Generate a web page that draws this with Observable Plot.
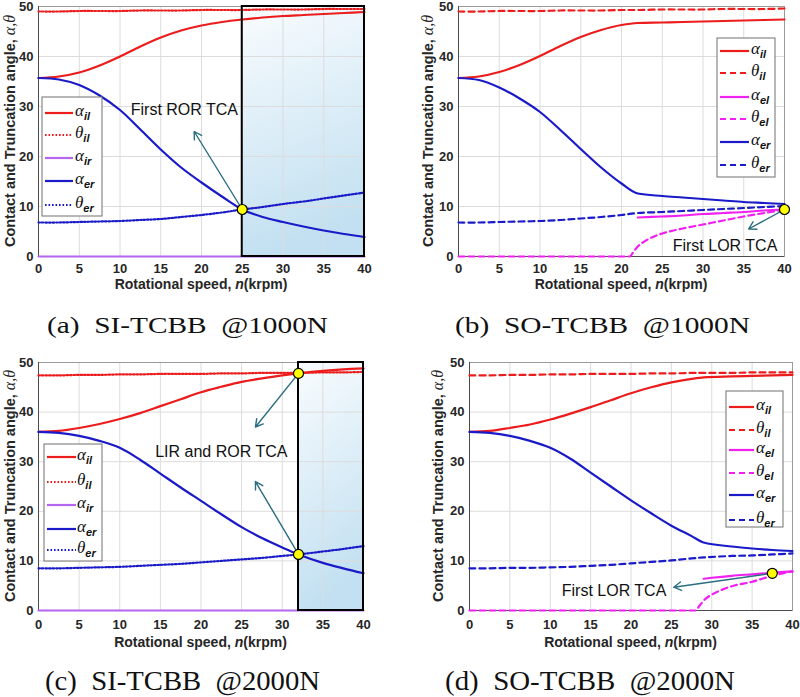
<!DOCTYPE html>
<html><head><meta charset="utf-8">
<script src="https://cdn.jsdelivr.net/npm/d3@7"></script>
<script src="https://cdn.jsdelivr.net/npm/@observablehq/plot@0.6"></script>
<style>
body{margin:0;background:#fff;}
#root{position:relative;width:800px;height:697px;overflow:hidden;background:#fff;}
.panel{position:absolute;}
.panel svg{overflow:visible;}
</style></head><body><div id="root"></div>
<script>
// ---------- shared ticks ----------
const xTicks = [0,5,10,15,20,25,30,35,40];
const yTicks = [0,10,20,30,40,50];

// ---------- (a) SI-TCBB @1000N ----------
const nA   = [0,2.5,5,7.5,10,12.5,15,17.5,20,22.5,25,27.5,30,32.5,35,37.5,40];
const aIlA = [35.7,36.0,36.8,38.2,40.0,42.0,43.8,45.2,46.2,46.9,47.4,47.8,48.1,48.3,48.5,48.7,48.9];
const tIlA = [49.0,49.0,49.1,49.1,49.1,49.2,49.2,49.2,49.3,49.3,49.3,49.4,49.4,49.4,49.5,49.5,49.5];
const aIrA = [0,0,0,0,0,0,0,0,0,0,0,0,0,0,0,0,0];
const aErA = [35.7,35.4,34.3,32.2,29.3,25.4,21.4,17.8,14.8,12.0,9.4,7.9,6.9,6.0,5.2,4.5,3.9];
const tErA = [6.8,6.8,6.9,7.0,7.1,7.3,7.5,7.9,8.3,8.8,9.4,9.9,10.5,11.0,11.6,12.2,12.8];
const regionA = [25,40];
const tcaA = {x:[25], y:[9.4]};
const arrowA = {x1:[25], y1:[9.4], x2:[19.1], y2:[25.0]};
const noteA = {x:[17.9], y:[29.3], text:["First ROR TCA"]};
const legSymA = ["α","θ","α","α","θ"];
const legSubA = ["il","il","ir","er","er"];

// ---------- (b) SO-TCBB @1000N ----------
const nB   = [0,2.5,5,7.5,10,12.5,15,17.5,20,22,25,27.5,30,32.5,35,37.5,40];
const aIlB = [35.7,36.0,36.9,38.3,40.1,42.1,43.9,45.3,46.3,46.7,46.8,46.9,47.0,47.1,47.2,47.3,47.4];
const tIlB = [49.0,49.0,49.1,49.1,49.1,49.2,49.2,49.2,49.3,49.3,49.4,49.4,49.4,49.5,49.5,49.5,49.6];
const aErB = [35.7,35.3,33.8,31.6,28.9,25.3,21.5,17.8,14.6,12.6,12.1,11.8,11.5,11.2,10.9,10.7,10.5];
const tErB = [6.8,6.8,6.9,7.0,7.1,7.3,7.6,7.9,8.3,8.7,8.9,9.1,9.3,9.5,9.7,9.9,10.1];
const nElB = [22,25,27.5,30,32.5,35,37.5,40];
const aElB = [7.8,8.0,8.2,8.5,8.7,8.9,9.2,9.4];
const nTElB = [0,5,10,15,20,21,21.5,22,23,24,25,27.5,30,32.5,35,37.5,40];
const tElB  = [0,0,0,0,0,0,1.0,2.0,3.2,4.0,4.6,5.6,6.4,7.2,8.0,8.7,9.4];
const tcaB = {x:[40], y:[9.4]};
const arrowB = {x1:[40], y1:[9.4], x2:[35.6], y2:[5.5]};
const noteB = {x:[32.7], y:[2.2], text:["First LOR TCA"]};
const legSymB = ["α","θ","α","θ","α","θ"];
const legSubB = ["il","il","el","el","er","er"];

// ---------- (c) SI-TCBB @2000N ----------
const nC   = [0,2.5,5,7.5,10,12.5,15,17.5,20,22.5,25,27.5,30,32,35,37.5,40];
const aIlC = [36.0,36.2,36.8,37.6,38.6,39.8,41.2,42.6,44.0,45.1,46.1,46.8,47.4,47.8,48.3,48.6,48.8];
const tIlC = [47.4,47.4,47.5,47.5,47.6,47.6,47.7,47.7,47.7,47.8,47.8,47.9,47.9,47.9,48.0,48.0,48.1];
const aIrC = [0,0,0,0,0,0,0,0,0,0,0,0,0,0,0,0,0];
const aErC = [36.0,35.8,35.2,34.2,32.8,30.4,27.6,24.8,22.1,19.4,16.8,14.6,12.7,11.3,9.6,8.5,7.5];
const tErC = [8.5,8.5,8.6,8.7,8.8,9.0,9.2,9.4,9.7,10.0,10.3,10.6,11.0,11.3,11.9,12.4,13.0];
const regionC = [32,40];
const tcaC = {x:[32,32], y:[47.8,11.3]};
const arrowC = {x1:[32,32], y1:[47.8,11.3], x2:[26.7,26.7], y2:[37.0,26.0]};
const noteC = {x:[22.5], y:[31.9], text:["LIR and ROR TCA"]};
const legSymC = legSymA;
const legSubC = legSubA;

// ---------- (d) SO-TCBB @2000N ----------
const nD   = [0,2.5,5,7.5,10,12.5,15,17.5,20,22.5,25,27.5,29,32.5,35,37.5,40];
const aIlD = [36.0,36.2,36.8,37.5,38.5,39.7,41.0,42.4,43.8,45.0,46.0,46.7,47.0,47.2,47.3,47.4,47.5];
const tIlD = [47.4,47.4,47.5,47.5,47.6,47.6,47.7,47.7,47.7,47.8,47.8,47.9,47.9,47.9,48.0,48.0,48.0];
const aErD = [36.0,35.8,35.2,34.2,32.8,30.6,27.8,25.0,22.2,19.6,17.1,15.0,13.7,12.9,12.5,12.2,12.0];
const tErD = [8.5,8.5,8.6,8.6,8.7,8.8,9.0,9.2,9.5,9.8,10.1,10.5,10.7,11.0,11.1,11.3,11.5];
const nElD = [29,30,32.5,35,37.5,40];
const aElD = [6.4,6.6,7.0,7.3,7.6,7.9];
const nTElD = [0,5,10,15,20,25,28,28.5,29,30,31,32.5,35,37.5,40];
const tElD  = [0,0,0,0,0,0,0,1.0,2.0,3.2,4.0,4.9,5.8,7.0,7.9];
const tcaD = {x:[37.5], y:[7.5]};
const arrowD = {x1:[37.5], y1:[7.5], x2:[25.3], y2:[4.7]};
const noteD = {x:[17.9], y:[3.9], text:["First LOR TCA"]};
const legSymD = legSymB;
const legSubD = legSubB;

// ---------- captions ----------
const captions = ["(a)\u00a0 SI-TCBB \u00a0@1000N","(b)\u00a0 SO-TCBB \u00a0@1000N","(c)\u00a0 SI-TCBB \u00a0@2000N","(d)\u00a0 SO-TCBB \u00a0@2000N"];

// ---------- styles ----------
const RED="#ec1c1c", BLUE="#1a1ac8", MAG="#f020f0", VIO="#b466ee", ARROW="#2a6e80";
const DOT="1.6,1.9", DASH="6,4";

function makePanel(cfg){
  const marks = [];
  if (cfg.region) marks.push(Plot.rect([cfg.region], {x1:d=>d[0], x2:d=>d[1], y1:0, y2:50, fill:`url(#${cfg.id}grad)`}));
  marks.push(Plot.gridX(xTicks, {stroke:"#dcdcdc", strokeOpacity:1}));
  marks.push(Plot.gridY(yTicks, {stroke:"#dcdcdc", strokeOpacity:1}));
  marks.push(Plot.frame({stroke:"#9a9a9a"}));
  marks.push(Plot.ruleX([0], {stroke:"#4a4a4a"}));
  marks.push(Plot.ruleY([0], {stroke:"#4a4a4a"}));
  for (const s of cfg.series) {
    marks.push(Plot.line(s.y, {x:s.x, y:s.y, stroke:s.color, strokeWidth:2.2, strokeDasharray:s.dash, curve:s.curve || "catmull-rom"}));
  }
  if (cfg.region) marks.push(Plot.rect([cfg.region], {x1:d=>d[0], x2:d=>d[1], y1:0, y2:50, fill:"none", stroke:"black", strokeWidth:2}));
  marks.push(Plot.arrow(cfg.arrow.x1, {x1:cfg.arrow.x1, y1:cfg.arrow.y1, x2:cfg.arrow.x2, y2:cfg.arrow.y2, stroke:ARROW, strokeWidth:1.4, headLength:9}));
  marks.push(Plot.dot(cfg.tca.x, {x:cfg.tca.x, y:cfg.tca.y, r:5, fill:"#ffff00", stroke:"black", strokeWidth:1.2}));
  marks.push(Plot.text(cfg.note.text, {x:cfg.note.x, y:cfg.note.y, text:cfg.note.text, fontSize:16, fontWeight:"normal", fill:"#111", fontFamily:"Liberation Sans"}));
  marks.push(Plot.axisX(xTicks, {tickSize:0, tickPadding:cfg.tickPadX, fontSize:13, fontWeight:"bold", fill:"#262626", label:null}));
  marks.push(Plot.axisY(yTicks, {tickSize:0, tickPadding:5, fontSize:13, fontWeight:"bold", fill:"#262626", label:null}));

  const plot = Plot.plot({
    width:400, height:296,
    marginLeft:cfg.ml, marginRight:cfg.mr, marginTop:6, marginBottom:cfg.mb,
    x:{domain:[0,40]}, y:{domain:[0,50]},
    style:{fontFamily:"Liberation Sans", background:"transparent", overflow:"visible"},
    marks
  });
  const svg = d3.select(plot);
  if (cfg.region) {
    const g = svg.insert("defs", ":first-child").append("linearGradient")
      .attr("id", cfg.id+"grad").attr("x1",0).attr("y1",0).attr("x2",0.2).attr("y2",1);
    g.append("stop").attr("offset","0%").attr("stop-color","#f9fcfe");
    g.append("stop").attr("offset","100%").attr("stop-color","#c2e0f1");
  }
  const xs = plot.scale("x"), ys = plot.scale("y");
  // x label
  const xl = svg.append("text").attr("x", (xs.apply(0)+xs.apply(40))/2).attr("y", cfg.xLabelY)
    .attr("text-anchor","middle").attr("font-family","Liberation Sans").attr("font-weight","bold")
    .attr("font-size",14).attr("fill","#262626");
  xl.append("tspan").text("Rotational speed, ");
  xl.append("tspan").attr("font-style","italic").text("n");
  xl.append("tspan").text("(krpm)");
  // y label
  const cy = (ys.apply(0)+ys.apply(50))/2;
  const yl = svg.append("text").attr("transform",`translate(${cfg.yLabelX},${cy}) rotate(-90)`)
    .attr("text-anchor","middle").attr("font-family","Liberation Sans").attr("font-weight","bold")
    .attr("font-size",14.5).attr("fill","#262626");
  yl.append("tspan").text("Contact and Truncation angle, ");
  yl.append("tspan").attr("font-family","Liberation Serif").attr("font-style","italic").attr("font-weight","normal").attr("font-size",16).text("α,θ");
  // legend
  const L = cfg.legend;
  svg.append("rect").attr("x",L.x).attr("y",L.y).attr("width",L.w).attr("height",L.h)
    .attr("fill","white").attr("stroke","#707070").attr("stroke-width",1);
  cfg.legSym.forEach((sym,i)=>{
    const s = cfg.series[i], y = L.ys[i];
    svg.append("line").attr("x1",L.lx1).attr("x2",L.lx2).attr("y1",y).attr("y2",y)
      .attr("stroke",s.color).attr("stroke-width",2.2).attr("stroke-dasharray",s.dash||null);
    const t = svg.append("text").attr("x",L.tx).attr("y",y+3).attr("fill","#111").attr("text-anchor","start");
    t.append("tspan").attr("font-family","Liberation Serif").attr("font-style","italic").attr("font-size",17).text(sym);
    t.append("tspan").attr("font-family","Liberation Sans").attr("font-style","italic").attr("font-weight","bold")
      .attr("font-size",11).attr("dy",4).text(cfg.legSub[i]);
  });
  const div = document.createElement("div");
  div.className = "panel";
  div.style.left = cfg.left+"px"; div.style.top = cfg.top+"px";
  div.appendChild(plot);
  document.getElementById("root").appendChild(div);
}

makePanel({id:"a", left:0, top:0, ml:38, mr:36, mb:40, tickPadX:7, xLabelY:289, yLabelX:15,
  region:regionA, tca:tcaA, arrow:arrowA, note:noteA, legSym:legSymA, legSub:legSubA,
  series:[{x:nA,y:aIlA,color:RED},{x:nA,y:tIlA,color:RED,dash:DOT},{x:nA,y:aIrA,color:VIO},
          {x:nA,y:aErA,color:BLUE},{x:nA,y:tErA,color:BLUE,dash:DOT}],
  legend:{x:42,y:97,w:60,h:119,ys:[113,135,158,181,205],lx1:45,lx2:73,tx:75}});

makePanel({id:"b", left:400, top:0, ml:58, mr:16, mb:40, tickPadX:7, xLabelY:289, yLabelX:33,
  tca:tcaB, arrow:arrowB, note:noteB, legSym:legSymB, legSub:legSubB,
  series:[{x:nB,y:aIlB,color:RED,curve:"monotone-x"},{x:nB,y:tIlB,color:RED,dash:DASH},{x:nElB,y:aElB,color:MAG},
          {x:nTElB,y:tElB,color:MAG,dash:DASH,curve:"monotone-x"},{x:nB,y:aErB,color:BLUE,curve:"monotone-x"},{x:nB,y:tErB,color:BLUE,dash:DASH}],
  legend:{x:317,y:38,w:58,h:139,ys:[51,73,97,119,142,165],lx1:320,lx2:349,tx:351}});

makePanel({id:"c", left:0, top:356, ml:38, mr:37, mb:42, tickPadX:9, xLabelY:291, yLabelX:15,
  region:regionC, tca:tcaC, arrow:arrowC, note:noteC, legSym:legSymC, legSub:legSubC,
  series:[{x:nC,y:aIlC,color:RED},{x:nC,y:tIlC,color:RED,dash:DOT},{x:nC,y:aIrC,color:VIO},
          {x:nC,y:aErC,color:BLUE},{x:nC,y:tErC,color:BLUE,dash:DOT}],
  legend:{x:44,y:88,w:58,h:117,ys:[101,126,149,173,194],lx1:47,lx2:76,tx:77}});

makePanel({id:"d", left:400, top:356, ml:69, mr:8, mb:42, tickPadX:9, xLabelY:291, yLabelX:43,
  tca:tcaD, arrow:arrowD, note:noteD, legSym:legSymD, legSub:legSubD,
  series:[{x:nD,y:aIlD,color:RED,curve:"monotone-x"},{x:nD,y:tIlD,color:RED,dash:DASH},{x:nElD,y:aElD,color:MAG},
          {x:nTElD,y:tElD,color:MAG,dash:DASH,curve:"monotone-x"},{x:nD,y:aErD,color:BLUE,curve:"monotone-x"},{x:nD,y:tErD,color:BLUE,dash:DASH}],
  legend:{x:326,y:35,w:57,h:136,ys:[51,74,94,117,139,164],lx1:329,lx2:354,tx:356}});

// captions overlay
const cap = d3.select("#root").append("svg").attr("width",800).attr("height",697)
  .style("position","absolute").style("left",0).style("top",0).style("pointer-events","none");
const capPos = [{x:47,y:333,len:281,fs:24},{x:455,y:333,len:295,fs:24},{x:45,y:690,len:275,fs:27},{x:445,y:690,len:290,fs:27}];
captions.forEach((c,i)=>{
  const p = capPos[i];
  cap.append("text").attr("x",p.x).attr("y",p.y).attr("font-family","Liberation Serif")
    .attr("font-size",p.fs).attr("fill","#111").attr("textLength",p.len).attr("lengthAdjust","spacingAndGlyphs").text(c);
});
</script></body></html>
